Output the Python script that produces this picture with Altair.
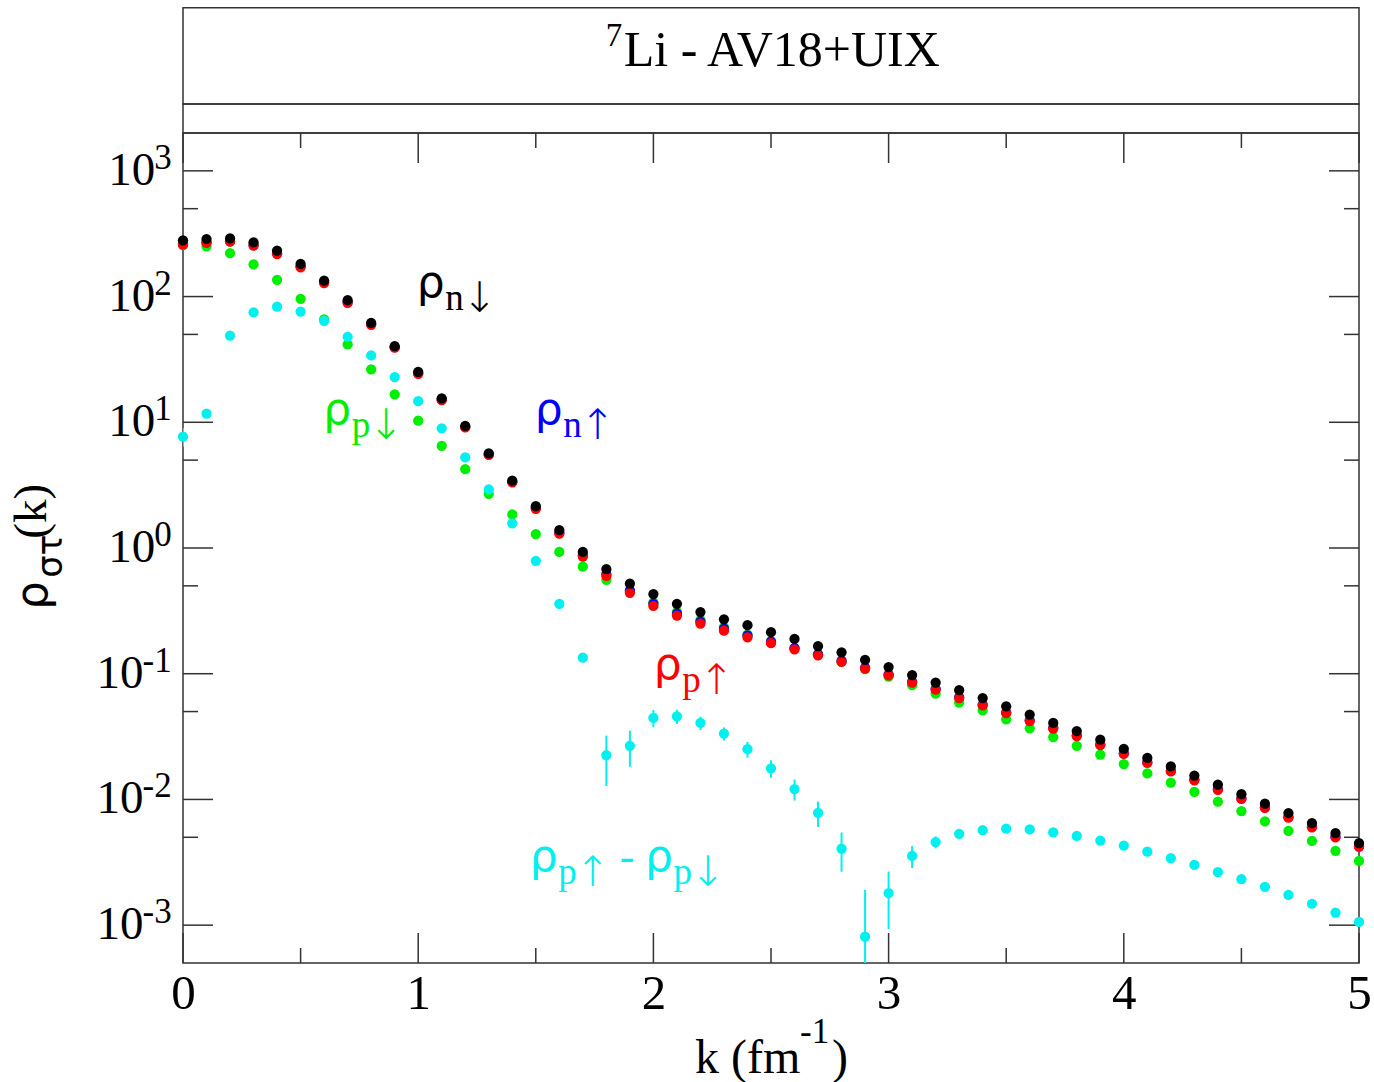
import altair as alt
import pandas as pd
import numpy as np

# ---------------- data ----------------
k = [0.0, 0.1, 0.2, 0.3, 0.4, 0.5, 0.6, 0.7, 0.8, 0.9,
     1.0, 1.1, 1.2, 1.3, 1.4, 1.5, 1.6, 1.7, 1.8, 1.9,
     2.0, 2.1, 2.2, 2.3, 2.4, 2.5, 2.6, 2.7, 2.8, 2.9,
     3.0, 3.1, 3.2, 3.3, 3.4, 3.5, 3.6, 3.7, 3.8, 3.9,
     4.0, 4.1, 4.2, 4.3, 4.4, 4.5, 4.6, 4.7, 4.8, 4.9, 5.0]

rho_n_down = [280, 287, 290, 270, 232, 182, 134, 93.5, 61.8, 40.3,
              25.2, 15.5, 9.36, 5.65, 3.43, 2.15, 1.39, 0.93, 0.68, 0.52,
              0.43, 0.36, 0.309, 0.271, 0.243, 0.214, 0.189, 0.166, 0.148, 0.129,
              0.113, 0.0976, 0.085, 0.074, 0.064, 0.055, 0.0473, 0.0406, 0.035, 0.0299,
              0.0252, 0.0214, 0.0183, 0.0155, 0.0131, 0.011, 0.00925, 0.0078, 0.00649, 0.0054, 0.0045]

rho_n_up = [263, 271, 276, 257, 221, 174, 130, 90.5, 60.5, 39.6,
            24.6, 15.2, 9.2, 5.55, 3.37, 2.08, 1.33, 0.875, 0.62, 0.46,
            0.36, 0.30, 0.26, 0.228, 0.202, 0.18, 0.16, 0.143, 0.127, 0.112,
            0.099, 0.0865, 0.0758, 0.065, 0.0568, 0.0492, 0.0426, 0.0371, 0.0323, 0.0274,
            0.0233, 0.0198, 0.0169, 0.0144, 0.0121, 0.0102, 0.00866, 0.00725, 0.00607, 0.00506, 0.00425]

rho_p_up = [259, 267, 273, 254, 218, 171, 128, 89, 59.6, 39.2,
            24.3, 15.0, 9.1, 5.5, 3.33, 2.05, 1.30, 0.855, 0.60, 0.44,
            0.346, 0.29, 0.25, 0.22, 0.195, 0.175, 0.156, 0.14, 0.124, 0.11,
            0.097, 0.085, 0.0746, 0.064, 0.056, 0.0485, 0.042, 0.0366, 0.0319, 0.027,
            0.023, 0.0195, 0.0167, 0.0142, 0.0119, 0.0101, 0.00855, 0.00716, 0.006, 0.005, 0.0042]

rho_p_down = [256, 251, 222, 180, 136, 96, 66, 41.6, 26.4, 16.7,
              10.3, 6.5, 4.24, 2.7, 1.85, 1.29, 0.93, 0.71, 0.557, 0.45,
              0.37, 0.31, 0.268, 0.235, 0.205, 0.182, 0.16, 0.142, 0.125, 0.109,
              0.095, 0.081, 0.0695, 0.059, 0.051, 0.0434, 0.0368, 0.0313, 0.0267, 0.0227,
              0.0191, 0.0161, 0.0136, 0.0115, 0.0096, 0.00806, 0.0067, 0.00562, 0.00468, 0.0039, 0.00324]

diff_p = [7.7, 11.7, 49, 75, 83, 76, 64, 47.9, 34, 22.9,
          14.7, 8.95, 5.25, 2.92, 1.57, 0.79, 0.36, 0.134, 0.0225, 0.0267,
          0.0445, 0.0458, 0.0406, 0.0334, 0.0251, 0.0177, 0.0121, 0.00783, 0.00406, 0.00081,
          0.0018, 0.00355, 0.00458, 0.00533, 0.0057, 0.00585, 0.00577, 0.00547, 0.00513, 0.00471,
          0.0043, 0.00384, 0.00341, 0.00301, 0.00264, 0.00232, 0.00202, 0.00174, 0.00148, 0.00126, 0.00106]

diff_err = [1.3, 0.6, 0.8, 0.8, 0.8, 0.8, 0.6, 0.5, 0.35, 0.25,
            0.18, 0.12, 0.08, 0.05, 0.03, 0.02, 0.012, 0.008, 0.0097, 0.0085,
            0.007, 0.006, 0.005, 0.004, 0.0036, 0.0028, 0.0023, 0.0018, 0.0014, 0.0011,
            0.00087, 0.0007, 0.0005, 0.0004, 0.0003, 0.00025, 0.0002, 0.00018, 0.00016, 0.00015,
            0.00014, 0.00013, 0.00012, 0.00011, 0.0001, 0.0001, 0.00009, 0.00008, 0.00007, 0.00006, 0.00005]

x_major = [0, 1, 2, 3, 4, 5]
x_minor = [0.5, 1.5, 2.5, 3.5, 4.5]
y_exp_pos = ["0", "1", "2", "3"]
y_exp_neg = ["-3", "-2", "-1"]
y_minor = [5e-3, 5e-2, 0.5, 5, 50, 500]

# annotation anchors (data coordinates)
ann_k = [0.994, 0.596, 1.496, 2.002, 1.474, 1.964]
ann_v = [99.8, 9.73, 9.73, 0.0907, 0.002686, 0.002686]
ann_letter = ["n", "p", "n", "p", "p", "p"]
ann_arrow = ["↓", "↓", "↑", "↑", "↑", "↓"]
ann_col = ["#000000", "#00ee00", "#0000ff", "#ff0000", "#00f0f0", "#00f0f0"]

# ---------------- styling ----------------
W, H = 1176, 830
SERIF = "Liberation Serif"
SANS = "DejaVu Sans"
FRAME = "#333333"
BLACK, BLUE, RED, GREEN, CYAN = "#000000", "#0000ff", "#ff0000", "#00ee00", "#00f0f0"

xscale = alt.Scale(domain=[0, 5], nice=False, zero=False)
yscale = alt.Scale(type="log", domain=[5e-4, 2000], nice=False)
xaxis = alt.Axis(values=x_major, format="d", labelFont=SERIF, labelFontSize=49,
                 labelColor="black", labelPadding=6, labelFlush=False,
                 ticks=False, tickSize=0, domain=False, grid=False, title=None,
                 labelOverlap=False)

X = lambda f: alt.X(f, type="quantitative", scale=xscale, axis=xaxis)
Y = lambda f: alt.Y(f, type="quantitative", scale=yscale, axis=None)


def series(vals, color):
    df = pd.DataFrame({"k": k, "v": vals})
    return alt.Chart(df).mark_circle(size=105, opacity=1, color=color).encode(x=X("k"), y=Y("v"))


err_df = pd.DataFrame({"k": k, "v": diff_p, "e": diff_err})
err_df["lo"] = np.maximum(err_df["v"] - err_df["e"], 1e-4)
err_df["hi"] = err_df["v"] + err_df["e"]
errbars = alt.Chart(err_df).mark_rule(color=CYAN, strokeWidth=2, clip=True).encode(
    x=X("k"), y=Y("lo"), y2="hi")

# ticks (inward)
xt_major = pd.DataFrame({"k": x_major})
xt_minor = pd.DataFrame({"k": x_minor})
yt_major = pd.DataFrame({"v": [10.0 ** int(e) for e in y_exp_neg + y_exp_pos]})
yt_minor = pd.DataFrame({"v": y_minor})

tick_layers = []
for df, ln in [(xt_major, 30), (xt_minor, 15)]:
    tick_layers.append(alt.Chart(df).mark_rule(color=FRAME, strokeWidth=1.5).encode(
        x=X("k"), y=alt.value(H), y2=alt.value(H - ln)))
    tick_layers.append(alt.Chart(df).mark_rule(color=FRAME, strokeWidth=1.5).encode(
        x=X("k"), y=alt.value(0), y2=alt.value(ln)))
for df, ln in [(yt_major, 30), (yt_minor, 15)]:
    tick_layers.append(alt.Chart(df).mark_rule(color=FRAME, strokeWidth=1.5).encode(
        y=Y("v"), x=alt.value(0), x2=alt.value(ln)))
    tick_layers.append(alt.Chart(df).mark_rule(color=FRAME, strokeWidth=1.5).encode(
        y=Y("v"), x=alt.value(W), x2=alt.value(W - ln)))

# y tick labels: "10" with superscript exponent
ylab_layers = []
for exps, dx10 in [(y_exp_pos, -27.8), (y_exp_neg, -39.6)]:
    df = pd.DataFrame({"v": [10.0 ** int(e) for e in exps], "e": exps})
    ylab_layers.append(alt.Chart(df).mark_text(
        align="right", baseline="alphabetic", dx=dx10, dy=14, font=SERIF, fontSize=47,
        color="black").encode(y=Y("v"), x=alt.value(0), text=alt.value("10")))
    ylab_layers.append(alt.Chart(df).mark_text(
        align="right", baseline="alphabetic", dx=-11.3, dy=-2, font=SERIF, fontSize=35,
        color="black").encode(y=Y("v"), x=alt.value(0), text="e:N"))

# series annotations
ann_df = pd.DataFrame({"k": ann_k, "v": ann_v, "letter": ann_letter,
                       "arrow": ann_arrow, "col": ann_col})
ann_rho = alt.Chart(ann_df).mark_text(align="left", baseline="alphabetic", font=SANS,
                                      fontSize=44).encode(
    x=X("k"), y=Y("v"), text=alt.value("ρ"), color=alt.Color("col:N", scale=None))
ann_let = alt.Chart(ann_df).mark_text(align="left", baseline="alphabetic", font=SERIF,
                                      fontSize=37, dx=28.5, dy=13).encode(
    x=X("k"), y=Y("v"), text="letter:N", color=alt.Color("col:N", scale=None))
ann_arr = alt.Chart(ann_df).mark_text(align="left", baseline="alphabetic", font=SANS,
                                      fontSize=42, fontWeight=200, dx=45, dy=15).encode(
    x=X("k"), y=Y("v"), text="arrow:N", color=alt.Color("col:N", scale=None))
dash_df = ann_df.iloc[[4]]
ann_dash = alt.Chart(dash_df).mark_text(align="left", baseline="alphabetic", font=SERIF,
                                        fontSize=44, dx=90, color=CYAN).encode(
    x=X("k"), y=Y("v"), text=alt.value("-"))

# title boxes and title
one = pd.DataFrame({"a": [0]})
box1 = alt.Chart(one).mark_rect(fillOpacity=0, stroke=FRAME, strokeWidth=1.5).encode(
    x=alt.value(0), x2=alt.value(W), y=alt.value(-125.3), y2=alt.value(-28.9))
box2 = alt.Chart(one).mark_rect(fillOpacity=0, stroke=FRAME, strokeWidth=1.5).encode(
    x=alt.value(0), x2=alt.value(W), y=alt.value(-28.9), y2=alt.value(0))


def txt(s, x, y, size, font=SERIF, angle=0):
    m = dict(align="left", baseline="alphabetic", font=font, fontSize=size, color="black")
    if angle:
        m["angle"] = angle
    return alt.Chart(one).mark_text(**m).encode(x=alt.value(x), y=alt.value(y), text=alt.value(s))


title_sup = txt("7", 422.7, -87.3, 33)
title_main = txt("Li - AV18+UIX", 440.7, -67.3, 50)

# x axis title: k (fm^-1)
xt1 = txt("k (fm", 512.0, 939.7, 48)
xt2 = txt("-1", 617.0, 909.7, 35)
xt3 = txt(")", 649.0, 939.7, 48)

# y axis title: rho_{sigma tau}(k), rotated
yt1 = txt("ρ", -136.3, 476.7, 45, font=SANS, angle=270)
yt2 = txt("στ", -121.3, 444.7, 35, font=SANS, angle=270)
yt3 = txt("(k)", -137.3, 405.7, 47, angle=270)

layers = (tick_layers + [errbars,
          series(rho_p_down, GREEN), series(diff_p, CYAN), series(rho_n_up, BLUE),
          series(rho_p_up, RED), series(rho_n_down, BLACK)]
          + ylab_layers + [ann_rho, ann_let, ann_arr, ann_dash, box1, box2,
                           title_sup, title_main, xt1, xt2, xt3, yt1, yt2, yt3])

chart = alt.layer(*layers).properties(
    width=W, height=H,
    padding={"left": 183, "top": 133, "right": 15, "bottom": 119},
    autosize=alt.AutoSizeParams(type="none"),
    background="white",
).configure_view(stroke=FRAME, strokeWidth=1.5)

chart.save("out.html", embed_options={"renderer": "svg", "actions": False})
